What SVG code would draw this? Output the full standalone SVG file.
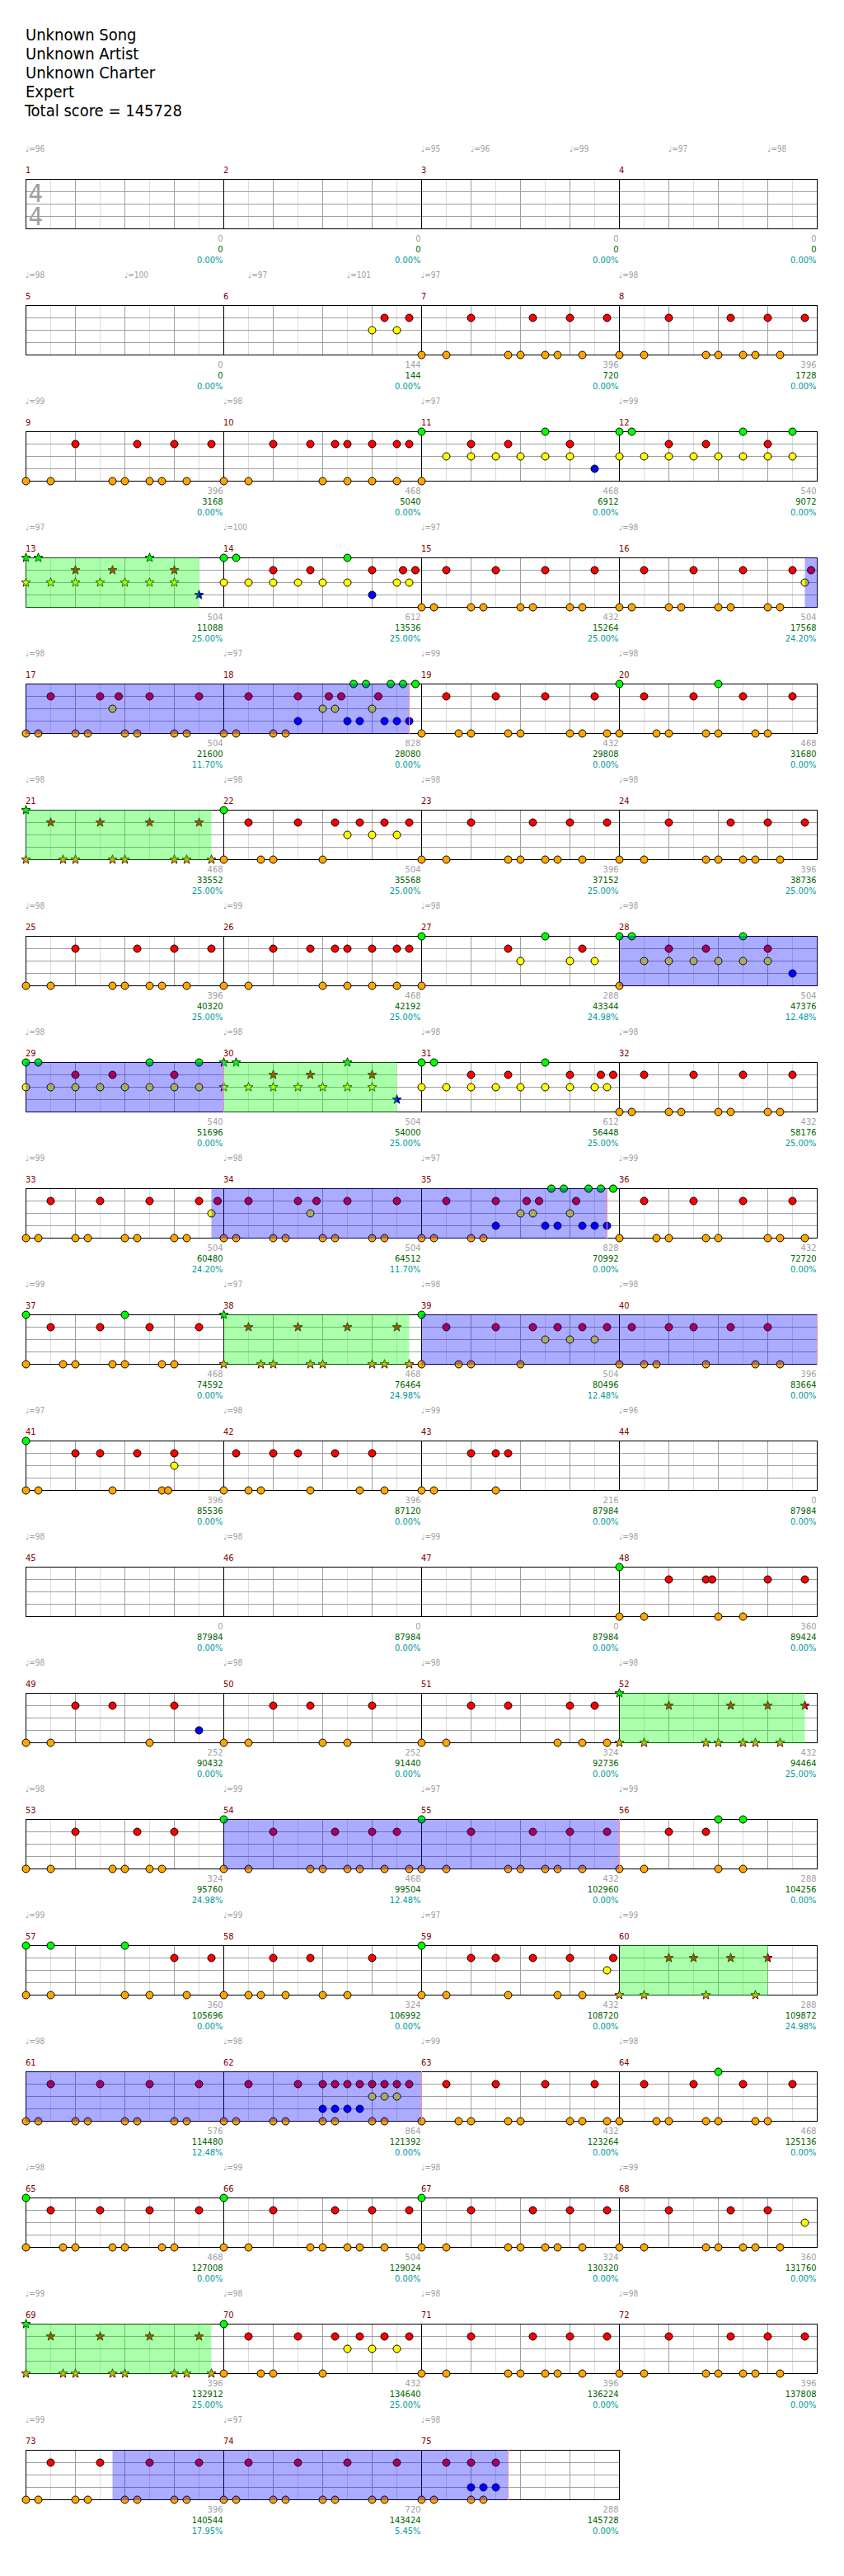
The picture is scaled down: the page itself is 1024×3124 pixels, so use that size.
<svg xmlns="http://www.w3.org/2000/svg" width="1024" height="3124" viewBox="0 0 1024 3124">
<style>
text{font-family:"DejaVu Sans Condensed","DejaVu Sans",sans-serif}
.t{font-size:20px;fill:#000}
.ts{font-size:31px;fill:#a0a0a0}
.mn{font-size:11px;fill:#800000}
.tp{font-size:10px;fill:#a0a0a0}
.s1{font-size:11px;fill:#a0a0a0;text-anchor:end}
.s2{font-size:11px;fill:#006400;text-anchor:end}
.s3{font-size:11px;fill:#009999;text-anchor:end}
.bo{fill:#0000ff;fill-opacity:.33}
.go{fill:#00ff00;fill-opacity:.33}
.be{stroke:#ff9090;stroke-width:1;fill:none}
</style>
<defs>
<g id="bar" fill="none">
<path d="M30.5 0v61M90.5 0v61M150.5 0v61M210.5 0v61" stroke="#dcdcdc"/>
<path d="M60.5 0v61M120.5 0v61M180.5 0v61M0 15.5h240M0 30.5h240M0 45.5h240" stroke="#a0a0a0"/>
<path d="M0.5 0v61M0 0.5h241M0 60.5h241M240.5 0v61" stroke="#000"/>
</g>
<circle id="G" r="4.5" fill="#00ff00" stroke="#000"/>
<circle id="R" cy="15" r="4.5" fill="#ff0000" stroke="#000"/>
<circle id="Y" cy="30" r="4.5" fill="#ffff00" stroke="#000"/>
<circle id="B" cy="45" r="4.5" fill="#0000ff" stroke="#000"/>
<circle id="O" cy="60" r="4.5" fill="#ffa500" stroke="#000"/>
<path id="st" d="M0,-5.8L1.41,-1.94L5.52,-1.79L2.28,0.74L3.41,4.69L0,2.4L-3.41,4.69L-2.28,0.74L-5.52,-1.79L-1.41,-1.94Z" stroke="#000" stroke-width="0.8"/>
<use id="SG" href="#st" fill="#00ff00"/>
<use id="SR" href="#st" y="15" fill="#ff0000"/>
<use id="SY" href="#st" y="30" fill="#ffff00"/>
<use id="SB" href="#st" y="45" fill="#0000ff"/>
<use id="SO" href="#st" y="60" fill="#ffa500"/>
</defs>
<rect width="1024" height="3124" fill="#fff"/>
<g id="header">
<text class="t" x="31" y="49">Unknown Song</text>
<text class="t" x="31" y="72">Unknown Artist</text>
<text class="t" x="31" y="95">Unknown Charter</text>
<text class="t" x="31" y="118">Expert</text>
<text class="t" x="30" y="141">Total score = 145728</text>
</g>

<g id="row1" transform="translate(0,217)">
<use href="#bar" x="31"/><use href="#bar" x="271"/><use href="#bar" x="511"/><use href="#bar" x="751"/>
<text class="ts" x="34.5" y="28">4</text><text class="ts" x="34.5" y="56">4</text>
<text class="mn" x="31" y="-7">1</text><text class="mn" x="271" y="-7">2</text><text class="mn" x="511" y="-7">3</text><text class="mn" x="751" y="-7">4</text>
<text class="tp" x="31" y="-33">♩=96</text><text class="tp" x="511" y="-33">♩=95</text><text class="tp" x="571" y="-33">♩=96</text><text class="tp" x="691" y="-33">♩=99</text><text class="tp" x="811" y="-33">♩=97</text><text class="tp" x="931" y="-33">♩=98</text>
<text class="s1" x="270.5" y="76">0</text><text class="s2" x="270.5" y="89">0</text><text class="s3" x="270.5" y="102">0.00%</text>
<text class="s1" x="510.5" y="76">0</text><text class="s2" x="510.5" y="89">0</text><text class="s3" x="510.5" y="102">0.00%</text>
<text class="s1" x="750.5" y="76">0</text><text class="s2" x="750.5" y="89">0</text><text class="s3" x="750.5" y="102">0.00%</text>
<text class="s1" x="990.5" y="76">0</text><text class="s2" x="990.5" y="89">0</text><text class="s3" x="990.5" y="102">0.00%</text>
</g>

<g id="row2" transform="translate(0,370)">
<use href="#bar" x="31"/><use href="#bar" x="271"/><use href="#bar" x="511"/><use href="#bar" x="751"/>
<g transform="translate(271.5,.5)"><use href="#Y" x="180"/><use href="#Y" x="210"/><use href="#R" x="195"/><use href="#R" x="225"/></g>
<g transform="translate(511.5,.5)"><use href="#R" x="60"/><use href="#R" x="135"/><use href="#R" x="180"/><use href="#R" x="225"/><use href="#O" x="0"/><use href="#O" x="30"/><use href="#O" x="105"/><use href="#O" x="120"/><use href="#O" x="150"/><use href="#O" x="165"/><use href="#O" x="195"/></g>
<g transform="translate(751.5,.5)"><use href="#R" x="60"/><use href="#R" x="135"/><use href="#R" x="180"/><use href="#R" x="225"/><use href="#O" x="0"/><use href="#O" x="30"/><use href="#O" x="105"/><use href="#O" x="120"/><use href="#O" x="150"/><use href="#O" x="165"/><use href="#O" x="195"/></g>
<text class="mn" x="31" y="-7">5</text><text class="mn" x="271" y="-7">6</text><text class="mn" x="511" y="-7">7</text><text class="mn" x="751" y="-7">8</text>
<text class="tp" x="31" y="-33">♩=98</text><text class="tp" x="151" y="-33">♩=100</text><text class="tp" x="301" y="-33">♩=97</text><text class="tp" x="421" y="-33">♩=101</text><text class="tp" x="511" y="-33">♩=97</text><text class="tp" x="751" y="-33">♩=98</text>
<text class="s1" x="270.5" y="76">0</text><text class="s2" x="270.5" y="89">0</text><text class="s3" x="270.5" y="102">0.00%</text>
<text class="s1" x="510.5" y="76">144</text><text class="s2" x="510.5" y="89">144</text><text class="s3" x="510.5" y="102">0.00%</text>
<text class="s1" x="750.5" y="76">396</text><text class="s2" x="750.5" y="89">720</text><text class="s3" x="750.5" y="102">0.00%</text>
<text class="s1" x="990.5" y="76">396</text><text class="s2" x="990.5" y="89">1728</text><text class="s3" x="990.5" y="102">0.00%</text>
</g>

<g id="row3" transform="translate(0,523)">
<use href="#bar" x="31"/><use href="#bar" x="271"/><use href="#bar" x="511"/><use href="#bar" x="751"/>
<g transform="translate(31.5,.5)"><use href="#R" x="60"/><use href="#R" x="135"/><use href="#R" x="180"/><use href="#R" x="225"/><use href="#O" x="0"/><use href="#O" x="30"/><use href="#O" x="105"/><use href="#O" x="120"/><use href="#O" x="150"/><use href="#O" x="165"/><use href="#O" x="195"/></g>
<g transform="translate(271.5,.5)"><use href="#R" x="60"/><use href="#R" x="105"/><use href="#R" x="135"/><use href="#R" x="150"/><use href="#R" x="180"/><use href="#R" x="210"/><use href="#R" x="225"/><use href="#O" x="0"/><use href="#O" x="30"/><use href="#O" x="120"/><use href="#O" x="150"/><use href="#O" x="180"/><use href="#O" x="210"/></g>
<g transform="translate(511.5,.5)"><use href="#G" x="0"/><use href="#G" x="150"/><use href="#R" x="60"/><use href="#R" x="105"/><use href="#R" x="180"/><use href="#Y" x="30"/><use href="#Y" x="60"/><use href="#Y" x="90"/><use href="#Y" x="120"/><use href="#Y" x="150"/><use href="#Y" x="180"/><use href="#B" x="210"/><use href="#O" x="0"/></g>
<g transform="translate(751.5,.5)"><use href="#G" x="0"/><use href="#G" x="15"/><use href="#G" x="150"/><use href="#G" x="210"/><use href="#R" x="60"/><use href="#R" x="105"/><use href="#R" x="180"/><use href="#Y" x="0"/><use href="#Y" x="30"/><use href="#Y" x="60"/><use href="#Y" x="90"/><use href="#Y" x="120"/><use href="#Y" x="150"/><use href="#Y" x="180"/><use href="#Y" x="210"/></g>
<text class="mn" x="31" y="-7">9</text><text class="mn" x="271" y="-7">10</text><text class="mn" x="511" y="-7">11</text><text class="mn" x="751" y="-7">12</text>
<text class="tp" x="31" y="-33">♩=99</text><text class="tp" x="271" y="-33">♩=98</text><text class="tp" x="511" y="-33">♩=97</text><text class="tp" x="751" y="-33">♩=99</text>
<text class="s1" x="270.5" y="76">396</text><text class="s2" x="270.5" y="89">3168</text><text class="s3" x="270.5" y="102">0.00%</text>
<text class="s1" x="510.5" y="76">468</text><text class="s2" x="510.5" y="89">5040</text><text class="s3" x="510.5" y="102">0.00%</text>
<text class="s1" x="750.5" y="76">468</text><text class="s2" x="750.5" y="89">6912</text><text class="s3" x="750.5" y="102">0.00%</text>
<text class="s1" x="990.5" y="76">540</text><text class="s2" x="990.5" y="89">9072</text><text class="s3" x="990.5" y="102">0.00%</text>
</g>

<g id="row4" transform="translate(0,676)">
<use href="#bar" x="31"/><use href="#bar" x="271"/><use href="#bar" x="511"/><use href="#bar" x="751"/>
<g transform="translate(31.5,.5)"><use href="#SG" x="0"/><use href="#SG" x="15"/><use href="#SG" x="150"/><use href="#SR" x="60"/><use href="#SR" x="105"/><use href="#SR" x="180"/><use href="#SY" x="0"/><use href="#SY" x="30"/><use href="#SY" x="60"/><use href="#SY" x="90"/><use href="#SY" x="120"/><use href="#SY" x="150"/><use href="#SY" x="180"/><use href="#SB" x="210"/></g>
<g transform="translate(271.5,.5)"><use href="#G" x="0"/><use href="#G" x="15"/><use href="#G" x="150"/><use href="#R" x="60"/><use href="#R" x="105"/><use href="#R" x="180"/><use href="#R" x="217.5"/><use href="#R" x="232.5"/><use href="#Y" x="0"/><use href="#Y" x="30"/><use href="#Y" x="60"/><use href="#Y" x="90"/><use href="#Y" x="120"/><use href="#Y" x="150"/><use href="#Y" x="210"/><use href="#Y" x="225"/><use href="#B" x="180"/></g>
<g transform="translate(511.5,.5)"><use href="#R" x="30"/><use href="#R" x="90"/><use href="#R" x="150"/><use href="#R" x="210"/><use href="#O" x="0"/><use href="#O" x="15"/><use href="#O" x="60"/><use href="#O" x="75"/><use href="#O" x="120"/><use href="#O" x="135"/><use href="#O" x="180"/><use href="#O" x="195"/></g>
<g transform="translate(751.5,.5)"><use href="#R" x="30"/><use href="#R" x="90"/><use href="#R" x="150"/><use href="#R" x="210"/><use href="#R" x="232.5"/><use href="#Y" x="225"/><use href="#O" x="0"/><use href="#O" x="15"/><use href="#O" x="60"/><use href="#O" x="75"/><use href="#O" x="120"/><use href="#O" x="135"/><use href="#O" x="180"/><use href="#O" x="195"/></g>
<rect class="go" x="31" y="0" width="210.5" height="61"/>
<rect class="bo" x="976.5" y="0" width="15.5" height="61"/>
<text class="mn" x="31" y="-7">13</text><text class="mn" x="271" y="-7">14</text><text class="mn" x="511" y="-7">15</text><text class="mn" x="751" y="-7">16</text>
<text class="tp" x="31" y="-33">♩=97</text><text class="tp" x="271" y="-33">♩=100</text><text class="tp" x="511" y="-33">♩=97</text><text class="tp" x="751" y="-33">♩=98</text>
<text class="s1" x="270.5" y="76">504</text><text class="s2" x="270.5" y="89">11088</text><text class="s3" x="270.5" y="102">25.00%</text>
<text class="s1" x="510.5" y="76">612</text><text class="s2" x="510.5" y="89">13536</text><text class="s3" x="510.5" y="102">25.00%</text>
<text class="s1" x="750.5" y="76">432</text><text class="s2" x="750.5" y="89">15264</text><text class="s3" x="750.5" y="102">25.00%</text>
<text class="s1" x="990.5" y="76">504</text><text class="s2" x="990.5" y="89">17568</text><text class="s3" x="990.5" y="102">24.20%</text>
</g>

<g id="row5" transform="translate(0,829)">
<use href="#bar" x="31"/><use href="#bar" x="271"/><use href="#bar" x="511"/><use href="#bar" x="751"/>
<g transform="translate(31.5,.5)"><use href="#R" x="30"/><use href="#R" x="90"/><use href="#R" x="112.5"/><use href="#R" x="150"/><use href="#R" x="210"/><use href="#Y" x="105"/><use href="#O" x="0"/><use href="#O" x="15"/><use href="#O" x="60"/><use href="#O" x="75"/><use href="#O" x="120"/><use href="#O" x="135"/><use href="#O" x="180"/><use href="#O" x="195"/></g>
<g transform="translate(271.5,.5)"><use href="#G" x="157.5"/><use href="#G" x="172.5"/><use href="#G" x="202.5"/><use href="#G" x="217.5"/><use href="#G" x="232.5"/><use href="#R" x="30"/><use href="#R" x="90"/><use href="#R" x="127.5"/><use href="#R" x="142.5"/><use href="#R" x="187.5"/><use href="#Y" x="120"/><use href="#Y" x="135"/><use href="#Y" x="180"/><use href="#B" x="90"/><use href="#B" x="150"/><use href="#B" x="165"/><use href="#B" x="195"/><use href="#B" x="210"/><use href="#B" x="225"/><use href="#O" x="0"/><use href="#O" x="15"/><use href="#O" x="60"/><use href="#O" x="75"/></g>
<g transform="translate(511.5,.5)"><use href="#R" x="30"/><use href="#R" x="90"/><use href="#R" x="150"/><use href="#R" x="210"/><use href="#O" x="0"/><use href="#O" x="45"/><use href="#O" x="60"/><use href="#O" x="105"/><use href="#O" x="120"/><use href="#O" x="180"/><use href="#O" x="195"/><use href="#O" x="225"/></g>
<g transform="translate(751.5,.5)"><use href="#G" x="0"/><use href="#G" x="120"/><use href="#R" x="30"/><use href="#R" x="90"/><use href="#R" x="150"/><use href="#R" x="210"/><use href="#O" x="0"/><use href="#O" x="45"/><use href="#O" x="60"/><use href="#O" x="105"/><use href="#O" x="120"/><use href="#O" x="165"/><use href="#O" x="180"/></g>
<rect class="bo" x="31" y="0" width="465.5" height="61"/><path class="be" d="M496.5 0v61"/>
<text class="mn" x="31" y="-7">17</text><text class="mn" x="271" y="-7">18</text><text class="mn" x="511" y="-7">19</text><text class="mn" x="751" y="-7">20</text>
<text class="tp" x="31" y="-33">♩=98</text><text class="tp" x="271" y="-33">♩=97</text><text class="tp" x="511" y="-33">♩=99</text><text class="tp" x="751" y="-33">♩=98</text>
<text class="s1" x="270.5" y="76">504</text><text class="s2" x="270.5" y="89">21600</text><text class="s3" x="270.5" y="102">11.70%</text>
<text class="s1" x="510.5" y="76">828</text><text class="s2" x="510.5" y="89">28080</text><text class="s3" x="510.5" y="102">0.00%</text>
<text class="s1" x="750.5" y="76">432</text><text class="s2" x="750.5" y="89">29808</text><text class="s3" x="750.5" y="102">0.00%</text>
<text class="s1" x="990.5" y="76">468</text><text class="s2" x="990.5" y="89">31680</text><text class="s3" x="990.5" y="102">0.00%</text>
</g>

<g id="row6" transform="translate(0,982)">
<use href="#bar" x="31"/><use href="#bar" x="271"/><use href="#bar" x="511"/><use href="#bar" x="751"/>
<g transform="translate(31.5,.5)"><use href="#SG" x="0"/><use href="#SR" x="30"/><use href="#SR" x="90"/><use href="#SR" x="150"/><use href="#SR" x="210"/><use href="#SO" x="0"/><use href="#SO" x="45"/><use href="#SO" x="60"/><use href="#SO" x="105"/><use href="#SO" x="120"/><use href="#SO" x="180"/><use href="#SO" x="195"/><use href="#SO" x="225"/></g>
<g transform="translate(271.5,.5)"><use href="#G" x="0"/><use href="#R" x="30"/><use href="#R" x="90"/><use href="#R" x="135"/><use href="#R" x="165"/><use href="#R" x="195"/><use href="#R" x="225"/><use href="#Y" x="150"/><use href="#Y" x="180"/><use href="#Y" x="210"/><use href="#O" x="0"/><use href="#O" x="45"/><use href="#O" x="60"/><use href="#O" x="120"/></g>
<g transform="translate(511.5,.5)"><use href="#R" x="60"/><use href="#R" x="135"/><use href="#R" x="180"/><use href="#R" x="225"/><use href="#O" x="0"/><use href="#O" x="30"/><use href="#O" x="105"/><use href="#O" x="120"/><use href="#O" x="150"/><use href="#O" x="165"/><use href="#O" x="195"/></g>
<g transform="translate(751.5,.5)"><use href="#R" x="60"/><use href="#R" x="135"/><use href="#R" x="180"/><use href="#R" x="225"/><use href="#O" x="0"/><use href="#O" x="30"/><use href="#O" x="105"/><use href="#O" x="120"/><use href="#O" x="150"/><use href="#O" x="165"/><use href="#O" x="195"/></g>
<rect class="go" x="31" y="0" width="225.5" height="61"/>
<text class="mn" x="31" y="-7">21</text><text class="mn" x="271" y="-7">22</text><text class="mn" x="511" y="-7">23</text><text class="mn" x="751" y="-7">24</text>
<text class="tp" x="31" y="-33">♩=98</text><text class="tp" x="271" y="-33">♩=98</text><text class="tp" x="511" y="-33">♩=98</text><text class="tp" x="751" y="-33">♩=98</text>
<text class="s1" x="270.5" y="76">468</text><text class="s2" x="270.5" y="89">33552</text><text class="s3" x="270.5" y="102">25.00%</text>
<text class="s1" x="510.5" y="76">504</text><text class="s2" x="510.5" y="89">35568</text><text class="s3" x="510.5" y="102">25.00%</text>
<text class="s1" x="750.5" y="76">396</text><text class="s2" x="750.5" y="89">37152</text><text class="s3" x="750.5" y="102">25.00%</text>
<text class="s1" x="990.5" y="76">396</text><text class="s2" x="990.5" y="89">38736</text><text class="s3" x="990.5" y="102">25.00%</text>
</g>

<g id="row7" transform="translate(0,1135)">
<use href="#bar" x="31"/><use href="#bar" x="271"/><use href="#bar" x="511"/><use href="#bar" x="751"/>
<g transform="translate(31.5,.5)"><use href="#R" x="60"/><use href="#R" x="135"/><use href="#R" x="180"/><use href="#R" x="225"/><use href="#O" x="0"/><use href="#O" x="30"/><use href="#O" x="105"/><use href="#O" x="120"/><use href="#O" x="150"/><use href="#O" x="165"/><use href="#O" x="195"/></g>
<g transform="translate(271.5,.5)"><use href="#R" x="60"/><use href="#R" x="105"/><use href="#R" x="135"/><use href="#R" x="150"/><use href="#R" x="180"/><use href="#R" x="210"/><use href="#R" x="225"/><use href="#O" x="0"/><use href="#O" x="30"/><use href="#O" x="120"/><use href="#O" x="150"/><use href="#O" x="180"/><use href="#O" x="210"/></g>
<g transform="translate(511.5,.5)"><use href="#G" x="0"/><use href="#G" x="150"/><use href="#R" x="105"/><use href="#R" x="195"/><use href="#Y" x="120"/><use href="#Y" x="180"/><use href="#Y" x="210"/><use href="#O" x="0"/></g>
<g transform="translate(751.5,.5)"><use href="#G" x="0"/><use href="#G" x="15"/><use href="#G" x="150"/><use href="#R" x="60"/><use href="#R" x="105"/><use href="#R" x="180"/><use href="#Y" x="30"/><use href="#Y" x="60"/><use href="#Y" x="90"/><use href="#Y" x="120"/><use href="#Y" x="150"/><use href="#Y" x="180"/><use href="#B" x="210"/><use href="#O" x="0"/></g>
<rect class="bo" x="751.5" y="0" width="240.5" height="61"/>
<text class="mn" x="31" y="-7">25</text><text class="mn" x="271" y="-7">26</text><text class="mn" x="511" y="-7">27</text><text class="mn" x="751" y="-7">28</text>
<text class="tp" x="31" y="-33">♩=98</text><text class="tp" x="271" y="-33">♩=99</text><text class="tp" x="511" y="-33">♩=98</text><text class="tp" x="751" y="-33">♩=98</text>
<text class="s1" x="270.5" y="76">396</text><text class="s2" x="270.5" y="89">40320</text><text class="s3" x="270.5" y="102">25.00%</text>
<text class="s1" x="510.5" y="76">468</text><text class="s2" x="510.5" y="89">42192</text><text class="s3" x="510.5" y="102">25.00%</text>
<text class="s1" x="750.5" y="76">288</text><text class="s2" x="750.5" y="89">43344</text><text class="s3" x="750.5" y="102">24.98%</text>
<text class="s1" x="990.5" y="76">504</text><text class="s2" x="990.5" y="89">47376</text><text class="s3" x="990.5" y="102">12.48%</text>
</g>

<g id="row8" transform="translate(0,1288)">
<use href="#bar" x="31"/><use href="#bar" x="271"/><use href="#bar" x="511"/><use href="#bar" x="751"/>
<g transform="translate(31.5,.5)"><use href="#G" x="0"/><use href="#G" x="15"/><use href="#G" x="150"/><use href="#G" x="210"/><use href="#R" x="60"/><use href="#R" x="105"/><use href="#R" x="180"/><use href="#Y" x="0"/><use href="#Y" x="30"/><use href="#Y" x="60"/><use href="#Y" x="90"/><use href="#Y" x="120"/><use href="#Y" x="150"/><use href="#Y" x="180"/><use href="#Y" x="210"/></g>
<g transform="translate(271.5,.5)"><use href="#SG" x="0"/><use href="#SG" x="15"/><use href="#SG" x="150"/><use href="#SR" x="60"/><use href="#SR" x="105"/><use href="#SR" x="180"/><use href="#SY" x="0"/><use href="#SY" x="30"/><use href="#SY" x="60"/><use href="#SY" x="90"/><use href="#SY" x="120"/><use href="#SY" x="150"/><use href="#SY" x="180"/><use href="#SB" x="210"/></g>
<g transform="translate(511.5,.5)"><use href="#G" x="0"/><use href="#G" x="15"/><use href="#G" x="150"/><use href="#R" x="60"/><use href="#R" x="105"/><use href="#R" x="180"/><use href="#R" x="217.5"/><use href="#R" x="232.5"/><use href="#Y" x="0"/><use href="#Y" x="30"/><use href="#Y" x="60"/><use href="#Y" x="90"/><use href="#Y" x="120"/><use href="#Y" x="150"/><use href="#Y" x="180"/><use href="#Y" x="210"/><use href="#Y" x="225"/></g>
<g transform="translate(751.5,.5)"><use href="#R" x="30"/><use href="#R" x="90"/><use href="#R" x="150"/><use href="#R" x="210"/><use href="#O" x="0"/><use href="#O" x="15"/><use href="#O" x="60"/><use href="#O" x="75"/><use href="#O" x="120"/><use href="#O" x="135"/><use href="#O" x="180"/><use href="#O" x="195"/></g>
<rect class="bo" x="31" y="0" width="240.5" height="61"/>
<rect class="go" x="271.5" y="0" width="210" height="61"/><path class="be" d="M271.5 0v61"/>
<text class="mn" x="31" y="-7">29</text><text class="mn" x="271" y="-7">30</text><text class="mn" x="511" y="-7">31</text><text class="mn" x="751" y="-7">32</text>
<text class="tp" x="31" y="-33">♩=98</text><text class="tp" x="271" y="-33">♩=98</text><text class="tp" x="511" y="-33">♩=98</text><text class="tp" x="751" y="-33">♩=98</text>
<text class="s1" x="270.5" y="76">540</text><text class="s2" x="270.5" y="89">51696</text><text class="s3" x="270.5" y="102">0.00%</text>
<text class="s1" x="510.5" y="76">504</text><text class="s2" x="510.5" y="89">54000</text><text class="s3" x="510.5" y="102">25.00%</text>
<text class="s1" x="750.5" y="76">612</text><text class="s2" x="750.5" y="89">56448</text><text class="s3" x="750.5" y="102">25.00%</text>
<text class="s1" x="990.5" y="76">432</text><text class="s2" x="990.5" y="89">58176</text><text class="s3" x="990.5" y="102">25.00%</text>
</g>

<g id="row9" transform="translate(0,1441)">
<use href="#bar" x="31"/><use href="#bar" x="271"/><use href="#bar" x="511"/><use href="#bar" x="751"/>
<g transform="translate(31.5,.5)"><use href="#R" x="30"/><use href="#R" x="90"/><use href="#R" x="150"/><use href="#R" x="210"/><use href="#R" x="232.5"/><use href="#Y" x="225"/><use href="#O" x="0"/><use href="#O" x="15"/><use href="#O" x="60"/><use href="#O" x="75"/><use href="#O" x="120"/><use href="#O" x="135"/><use href="#O" x="180"/><use href="#O" x="195"/></g>
<g transform="translate(271.5,.5)"><use href="#R" x="30"/><use href="#R" x="90"/><use href="#R" x="112.5"/><use href="#R" x="150"/><use href="#R" x="210"/><use href="#Y" x="105"/><use href="#O" x="0"/><use href="#O" x="15"/><use href="#O" x="60"/><use href="#O" x="75"/><use href="#O" x="120"/><use href="#O" x="135"/><use href="#O" x="180"/><use href="#O" x="195"/></g>
<g transform="translate(511.5,.5)"><use href="#G" x="157.5"/><use href="#G" x="172.5"/><use href="#G" x="202.5"/><use href="#G" x="217.5"/><use href="#G" x="232.5"/><use href="#R" x="30"/><use href="#R" x="90"/><use href="#R" x="127.5"/><use href="#R" x="142.5"/><use href="#R" x="187.5"/><use href="#Y" x="120"/><use href="#Y" x="135"/><use href="#Y" x="180"/><use href="#B" x="90"/><use href="#B" x="150"/><use href="#B" x="165"/><use href="#B" x="195"/><use href="#B" x="210"/><use href="#B" x="225"/><use href="#O" x="0"/><use href="#O" x="15"/><use href="#O" x="60"/><use href="#O" x="75"/></g>
<g transform="translate(751.5,.5)"><use href="#R" x="30"/><use href="#R" x="90"/><use href="#R" x="150"/><use href="#R" x="210"/><use href="#O" x="0"/><use href="#O" x="45"/><use href="#O" x="60"/><use href="#O" x="105"/><use href="#O" x="120"/><use href="#O" x="180"/><use href="#O" x="195"/><use href="#O" x="225"/></g>
<rect class="bo" x="256.5" y="0" width="480" height="61"/><path class="be" d="M736.5 0v61"/>
<text class="mn" x="31" y="-7">33</text><text class="mn" x="271" y="-7">34</text><text class="mn" x="511" y="-7">35</text><text class="mn" x="751" y="-7">36</text>
<text class="tp" x="31" y="-33">♩=99</text><text class="tp" x="271" y="-33">♩=98</text><text class="tp" x="511" y="-33">♩=97</text><text class="tp" x="751" y="-33">♩=99</text>
<text class="s1" x="270.5" y="76">504</text><text class="s2" x="270.5" y="89">60480</text><text class="s3" x="270.5" y="102">24.20%</text>
<text class="s1" x="510.5" y="76">504</text><text class="s2" x="510.5" y="89">64512</text><text class="s3" x="510.5" y="102">11.70%</text>
<text class="s1" x="750.5" y="76">828</text><text class="s2" x="750.5" y="89">70992</text><text class="s3" x="750.5" y="102">0.00%</text>
<text class="s1" x="990.5" y="76">432</text><text class="s2" x="990.5" y="89">72720</text><text class="s3" x="990.5" y="102">0.00%</text>
</g>

<g id="row10" transform="translate(0,1594)">
<use href="#bar" x="31"/><use href="#bar" x="271"/><use href="#bar" x="511"/><use href="#bar" x="751"/>
<g transform="translate(31.5,.5)"><use href="#G" x="0"/><use href="#G" x="120"/><use href="#R" x="30"/><use href="#R" x="90"/><use href="#R" x="150"/><use href="#R" x="210"/><use href="#O" x="0"/><use href="#O" x="45"/><use href="#O" x="60"/><use href="#O" x="105"/><use href="#O" x="120"/><use href="#O" x="165"/><use href="#O" x="180"/></g>
<g transform="translate(271.5,.5)"><use href="#SG" x="0"/><use href="#SR" x="30"/><use href="#SR" x="90"/><use href="#SR" x="150"/><use href="#SR" x="210"/><use href="#SO" x="0"/><use href="#SO" x="45"/><use href="#SO" x="60"/><use href="#SO" x="105"/><use href="#SO" x="120"/><use href="#SO" x="180"/><use href="#SO" x="195"/><use href="#SO" x="225"/></g>
<g transform="translate(511.5,.5)"><use href="#G" x="0"/><use href="#R" x="30"/><use href="#R" x="90"/><use href="#R" x="135"/><use href="#R" x="165"/><use href="#R" x="195"/><use href="#R" x="225"/><use href="#Y" x="150"/><use href="#Y" x="180"/><use href="#Y" x="210"/><use href="#O" x="0"/><use href="#O" x="45"/><use href="#O" x="60"/><use href="#O" x="120"/></g>
<g transform="translate(751.5,.5)"><use href="#R" x="15"/><use href="#R" x="60"/><use href="#R" x="90"/><use href="#R" x="135"/><use href="#R" x="180"/><use href="#O" x="0"/><use href="#O" x="30"/><use href="#O" x="45"/><use href="#O" x="105"/><use href="#O" x="165"/><use href="#O" x="195"/></g>
<rect class="go" x="271.5" y="0" width="225" height="61"/>
<rect class="bo" x="511.5" y="0" width="480.5" height="61"/><path class="be" d="M991.5 0v61"/>
<text class="mn" x="31" y="-7">37</text><text class="mn" x="271" y="-7">38</text><text class="mn" x="511" y="-7">39</text><text class="mn" x="751" y="-7">40</text>
<text class="tp" x="31" y="-33">♩=99</text><text class="tp" x="271" y="-33">♩=97</text><text class="tp" x="511" y="-33">♩=98</text><text class="tp" x="751" y="-33">♩=98</text>
<text class="s1" x="270.5" y="76">468</text><text class="s2" x="270.5" y="89">74592</text><text class="s3" x="270.5" y="102">0.00%</text>
<text class="s1" x="510.5" y="76">468</text><text class="s2" x="510.5" y="89">76464</text><text class="s3" x="510.5" y="102">24.98%</text>
<text class="s1" x="750.5" y="76">504</text><text class="s2" x="750.5" y="89">80496</text><text class="s3" x="750.5" y="102">12.48%</text>
<text class="s1" x="990.5" y="76">396</text><text class="s2" x="990.5" y="89">83664</text><text class="s3" x="990.5" y="102">0.00%</text>
</g>

<g id="row11" transform="translate(0,1747)">
<use href="#bar" x="31"/><use href="#bar" x="271"/><use href="#bar" x="511"/><use href="#bar" x="751"/>
<g transform="translate(31.5,.5)"><use href="#G" x="0"/><use href="#R" x="60"/><use href="#R" x="90"/><use href="#R" x="135"/><use href="#R" x="180"/><use href="#Y" x="180"/><use href="#O" x="0"/><use href="#O" x="15"/><use href="#O" x="105"/><use href="#O" x="165"/><use href="#O" x="172.5"/></g>
<g transform="translate(271.5,.5)"><use href="#R" x="15"/><use href="#R" x="60"/><use href="#R" x="90"/><use href="#R" x="135"/><use href="#R" x="180"/><use href="#O" x="0"/><use href="#O" x="30"/><use href="#O" x="45"/><use href="#O" x="105"/><use href="#O" x="165"/><use href="#O" x="195"/></g>
<g transform="translate(511.5,.5)"><use href="#R" x="60"/><use href="#R" x="90"/><use href="#R" x="105"/><use href="#O" x="0"/><use href="#O" x="15"/><use href="#O" x="90"/></g>
<text class="mn" x="31" y="-7">41</text><text class="mn" x="271" y="-7">42</text><text class="mn" x="511" y="-7">43</text><text class="mn" x="751" y="-7">44</text>
<text class="tp" x="31" y="-33">♩=97</text><text class="tp" x="271" y="-33">♩=98</text><text class="tp" x="511" y="-33">♩=99</text><text class="tp" x="751" y="-33">♩=96</text>
<text class="s1" x="270.5" y="76">396</text><text class="s2" x="270.5" y="89">85536</text><text class="s3" x="270.5" y="102">0.00%</text>
<text class="s1" x="510.5" y="76">396</text><text class="s2" x="510.5" y="89">87120</text><text class="s3" x="510.5" y="102">0.00%</text>
<text class="s1" x="750.5" y="76">216</text><text class="s2" x="750.5" y="89">87984</text><text class="s3" x="750.5" y="102">0.00%</text>
<text class="s1" x="990.5" y="76">0</text><text class="s2" x="990.5" y="89">87984</text><text class="s3" x="990.5" y="102">0.00%</text>
</g>

<g id="row12" transform="translate(0,1900)">
<use href="#bar" x="31"/><use href="#bar" x="271"/><use href="#bar" x="511"/><use href="#bar" x="751"/>
<g transform="translate(751.5,.5)"><use href="#G" x="0"/><use href="#R" x="60"/><use href="#R" x="105"/><use href="#R" x="112.5"/><use href="#R" x="180"/><use href="#R" x="225"/><use href="#O" x="0"/><use href="#O" x="30"/><use href="#O" x="120"/><use href="#O" x="150"/></g>
<text class="mn" x="31" y="-7">45</text><text class="mn" x="271" y="-7">46</text><text class="mn" x="511" y="-7">47</text><text class="mn" x="751" y="-7">48</text>
<text class="tp" x="31" y="-33">♩=98</text><text class="tp" x="271" y="-33">♩=98</text><text class="tp" x="511" y="-33">♩=99</text><text class="tp" x="751" y="-33">♩=98</text>
<text class="s1" x="270.5" y="76">0</text><text class="s2" x="270.5" y="89">87984</text><text class="s3" x="270.5" y="102">0.00%</text>
<text class="s1" x="510.5" y="76">0</text><text class="s2" x="510.5" y="89">87984</text><text class="s3" x="510.5" y="102">0.00%</text>
<text class="s1" x="750.5" y="76">0</text><text class="s2" x="750.5" y="89">87984</text><text class="s3" x="750.5" y="102">0.00%</text>
<text class="s1" x="990.5" y="76">360</text><text class="s2" x="990.5" y="89">89424</text><text class="s3" x="990.5" y="102">0.00%</text>
</g>

<g id="row13" transform="translate(0,2053)">
<use href="#bar" x="31"/><use href="#bar" x="271"/><use href="#bar" x="511"/><use href="#bar" x="751"/>
<g transform="translate(31.5,.5)"><use href="#R" x="60"/><use href="#R" x="105"/><use href="#R" x="180"/><use href="#B" x="210"/><use href="#O" x="0"/><use href="#O" x="30"/><use href="#O" x="150"/></g>
<g transform="translate(271.5,.5)"><use href="#R" x="60"/><use href="#R" x="105"/><use href="#R" x="180"/><use href="#O" x="0"/><use href="#O" x="30"/><use href="#O" x="120"/><use href="#O" x="150"/></g>
<g transform="translate(511.5,.5)"><use href="#R" x="60"/><use href="#R" x="105"/><use href="#R" x="180"/><use href="#R" x="210"/><use href="#O" x="0"/><use href="#O" x="30"/><use href="#O" x="165"/><use href="#O" x="195"/><use href="#O" x="225"/></g>
<g transform="translate(751.5,.5)"><use href="#SG" x="0"/><use href="#SR" x="60"/><use href="#SR" x="135"/><use href="#SR" x="180"/><use href="#SR" x="225"/><use href="#SO" x="0"/><use href="#SO" x="30"/><use href="#SO" x="105"/><use href="#SO" x="120"/><use href="#SO" x="150"/><use href="#SO" x="165"/><use href="#SO" x="195"/></g>
<rect class="go" x="751.5" y="0" width="225" height="61"/>
<text class="mn" x="31" y="-7">49</text><text class="mn" x="271" y="-7">50</text><text class="mn" x="511" y="-7">51</text><text class="mn" x="751" y="-7">52</text>
<text class="tp" x="31" y="-33">♩=98</text><text class="tp" x="271" y="-33">♩=98</text><text class="tp" x="511" y="-33">♩=98</text><text class="tp" x="751" y="-33">♩=98</text>
<text class="s1" x="270.5" y="76">252</text><text class="s2" x="270.5" y="89">90432</text><text class="s3" x="270.5" y="102">0.00%</text>
<text class="s1" x="510.5" y="76">252</text><text class="s2" x="510.5" y="89">91440</text><text class="s3" x="510.5" y="102">0.00%</text>
<text class="s1" x="750.5" y="76">324</text><text class="s2" x="750.5" y="89">92736</text><text class="s3" x="750.5" y="102">0.00%</text>
<text class="s1" x="990.5" y="76">432</text><text class="s2" x="990.5" y="89">94464</text><text class="s3" x="990.5" y="102">25.00%</text>
</g>

<g id="row14" transform="translate(0,2206)">
<use href="#bar" x="31"/><use href="#bar" x="271"/><use href="#bar" x="511"/><use href="#bar" x="751"/>
<g transform="translate(31.5,.5)"><use href="#R" x="60"/><use href="#R" x="135"/><use href="#R" x="180"/><use href="#O" x="0"/><use href="#O" x="30"/><use href="#O" x="105"/><use href="#O" x="120"/><use href="#O" x="150"/><use href="#O" x="165"/></g>
<g transform="translate(271.5,.5)"><use href="#G" x="0"/><use href="#R" x="60"/><use href="#R" x="135"/><use href="#R" x="180"/><use href="#R" x="210"/><use href="#O" x="0"/><use href="#O" x="30"/><use href="#O" x="105"/><use href="#O" x="120"/><use href="#O" x="150"/><use href="#O" x="165"/><use href="#O" x="195"/><use href="#O" x="225"/></g>
<g transform="translate(511.5,.5)"><use href="#G" x="0"/><use href="#R" x="60"/><use href="#R" x="135"/><use href="#R" x="180"/><use href="#R" x="225"/><use href="#O" x="0"/><use href="#O" x="30"/><use href="#O" x="105"/><use href="#O" x="120"/><use href="#O" x="150"/><use href="#O" x="165"/><use href="#O" x="195"/></g>
<g transform="translate(751.5,.5)"><use href="#G" x="120"/><use href="#G" x="150"/><use href="#R" x="60"/><use href="#R" x="105"/><use href="#O" x="0"/><use href="#O" x="30"/><use href="#O" x="120"/><use href="#O" x="150"/></g>
<rect class="bo" x="271.5" y="0" width="480" height="61"/><path class="be" d="M751.5 0v61"/>
<text class="mn" x="31" y="-7">53</text><text class="mn" x="271" y="-7">54</text><text class="mn" x="511" y="-7">55</text><text class="mn" x="751" y="-7">56</text>
<text class="tp" x="31" y="-33">♩=98</text><text class="tp" x="271" y="-33">♩=99</text><text class="tp" x="511" y="-33">♩=97</text><text class="tp" x="751" y="-33">♩=99</text>
<text class="s1" x="270.5" y="76">324</text><text class="s2" x="270.5" y="89">95760</text><text class="s3" x="270.5" y="102">24.98%</text>
<text class="s1" x="510.5" y="76">468</text><text class="s2" x="510.5" y="89">99504</text><text class="s3" x="510.5" y="102">12.48%</text>
<text class="s1" x="750.5" y="76">432</text><text class="s2" x="750.5" y="89">102960</text><text class="s3" x="750.5" y="102">0.00%</text>
<text class="s1" x="990.5" y="76">288</text><text class="s2" x="990.5" y="89">104256</text><text class="s3" x="990.5" y="102">0.00%</text>
</g>

<g id="row15" transform="translate(0,2359)">
<use href="#bar" x="31"/><use href="#bar" x="271"/><use href="#bar" x="511"/><use href="#bar" x="751"/>
<g transform="translate(31.5,.5)"><use href="#G" x="0"/><use href="#G" x="30"/><use href="#G" x="120"/><use href="#R" x="180"/><use href="#R" x="225"/><use href="#O" x="0"/><use href="#O" x="30"/><use href="#O" x="120"/><use href="#O" x="150"/><use href="#O" x="195"/></g>
<g transform="translate(271.5,.5)"><use href="#R" x="60"/><use href="#R" x="105"/><use href="#R" x="180"/><use href="#O" x="0"/><use href="#O" x="30"/><use href="#O" x="45"/><use href="#O" x="75"/><use href="#O" x="120"/><use href="#O" x="150"/></g>
<g transform="translate(511.5,.5)"><use href="#G" x="0"/><use href="#R" x="60"/><use href="#R" x="90"/><use href="#R" x="135"/><use href="#R" x="180"/><use href="#R" x="232.5"/><use href="#Y" x="225"/><use href="#O" x="0"/><use href="#O" x="30"/><use href="#O" x="105"/><use href="#O" x="165"/><use href="#O" x="195"/></g>
<g transform="translate(751.5,.5)"><use href="#SR" x="60"/><use href="#SR" x="90"/><use href="#SR" x="135"/><use href="#SR" x="180"/><use href="#SO" x="0"/><use href="#SO" x="30"/><use href="#SO" x="105"/><use href="#SO" x="165"/></g>
<rect class="go" x="751.5" y="0" width="180" height="61"/>
<text class="mn" x="31" y="-7">57</text><text class="mn" x="271" y="-7">58</text><text class="mn" x="511" y="-7">59</text><text class="mn" x="751" y="-7">60</text>
<text class="tp" x="31" y="-33">♩=99</text><text class="tp" x="271" y="-33">♩=99</text><text class="tp" x="511" y="-33">♩=97</text><text class="tp" x="751" y="-33">♩=99</text>
<text class="s1" x="270.5" y="76">360</text><text class="s2" x="270.5" y="89">105696</text><text class="s3" x="270.5" y="102">0.00%</text>
<text class="s1" x="510.5" y="76">324</text><text class="s2" x="510.5" y="89">106992</text><text class="s3" x="510.5" y="102">0.00%</text>
<text class="s1" x="750.5" y="76">432</text><text class="s2" x="750.5" y="89">108720</text><text class="s3" x="750.5" y="102">0.00%</text>
<text class="s1" x="990.5" y="76">288</text><text class="s2" x="990.5" y="89">109872</text><text class="s3" x="990.5" y="102">24.98%</text>
</g>

<g id="row16" transform="translate(0,2512)">
<use href="#bar" x="31"/><use href="#bar" x="271"/><use href="#bar" x="511"/><use href="#bar" x="751"/>
<g transform="translate(31.5,.5)"><use href="#R" x="30"/><use href="#R" x="90"/><use href="#R" x="150"/><use href="#R" x="210"/><use href="#O" x="0"/><use href="#O" x="15"/><use href="#O" x="60"/><use href="#O" x="75"/><use href="#O" x="120"/><use href="#O" x="135"/><use href="#O" x="180"/><use href="#O" x="195"/></g>
<g transform="translate(271.5,.5)"><use href="#R" x="30"/><use href="#R" x="90"/><use href="#R" x="120"/><use href="#R" x="135"/><use href="#R" x="150"/><use href="#R" x="165"/><use href="#R" x="180"/><use href="#R" x="195"/><use href="#R" x="210"/><use href="#R" x="225"/><use href="#Y" x="180"/><use href="#Y" x="195"/><use href="#Y" x="210"/><use href="#B" x="120"/><use href="#B" x="135"/><use href="#B" x="150"/><use href="#B" x="165"/><use href="#O" x="0"/><use href="#O" x="15"/><use href="#O" x="60"/><use href="#O" x="75"/><use href="#O" x="120"/><use href="#O" x="135"/><use href="#O" x="180"/><use href="#O" x="195"/></g>
<g transform="translate(511.5,.5)"><use href="#R" x="30"/><use href="#R" x="90"/><use href="#R" x="150"/><use href="#R" x="210"/><use href="#O" x="0"/><use href="#O" x="45"/><use href="#O" x="60"/><use href="#O" x="105"/><use href="#O" x="120"/><use href="#O" x="180"/><use href="#O" x="195"/><use href="#O" x="225"/></g>
<g transform="translate(751.5,.5)"><use href="#G" x="120"/><use href="#R" x="30"/><use href="#R" x="90"/><use href="#R" x="150"/><use href="#R" x="210"/><use href="#O" x="0"/><use href="#O" x="45"/><use href="#O" x="60"/><use href="#O" x="105"/><use href="#O" x="120"/><use href="#O" x="165"/><use href="#O" x="180"/></g>
<rect class="bo" x="31" y="0" width="480.5" height="61"/><path class="be" d="M511.5 0v61"/>
<text class="mn" x="31" y="-7">61</text><text class="mn" x="271" y="-7">62</text><text class="mn" x="511" y="-7">63</text><text class="mn" x="751" y="-7">64</text>
<text class="tp" x="31" y="-33">♩=98</text><text class="tp" x="271" y="-33">♩=98</text><text class="tp" x="511" y="-33">♩=99</text><text class="tp" x="751" y="-33">♩=98</text>
<text class="s1" x="270.5" y="76">576</text><text class="s2" x="270.5" y="89">114480</text><text class="s3" x="270.5" y="102">12.48%</text>
<text class="s1" x="510.5" y="76">864</text><text class="s2" x="510.5" y="89">121392</text><text class="s3" x="510.5" y="102">0.00%</text>
<text class="s1" x="750.5" y="76">432</text><text class="s2" x="750.5" y="89">123264</text><text class="s3" x="750.5" y="102">0.00%</text>
<text class="s1" x="990.5" y="76">468</text><text class="s2" x="990.5" y="89">125136</text><text class="s3" x="990.5" y="102">0.00%</text>
</g>

<g id="row17" transform="translate(0,2665)">
<use href="#bar" x="31"/><use href="#bar" x="271"/><use href="#bar" x="511"/><use href="#bar" x="751"/>
<g transform="translate(31.5,.5)"><use href="#G" x="0"/><use href="#R" x="30"/><use href="#R" x="90"/><use href="#R" x="150"/><use href="#R" x="210"/><use href="#O" x="0"/><use href="#O" x="45"/><use href="#O" x="60"/><use href="#O" x="105"/><use href="#O" x="120"/><use href="#O" x="165"/><use href="#O" x="180"/></g>
<g transform="translate(271.5,.5)"><use href="#G" x="0"/><use href="#R" x="60"/><use href="#R" x="135"/><use href="#R" x="180"/><use href="#R" x="225"/><use href="#O" x="0"/><use href="#O" x="30"/><use href="#O" x="105"/><use href="#O" x="120"/><use href="#O" x="150"/><use href="#O" x="165"/><use href="#O" x="195"/></g>
<g transform="translate(511.5,.5)"><use href="#G" x="0"/><use href="#R" x="60"/><use href="#R" x="135"/><use href="#R" x="180"/><use href="#R" x="225"/><use href="#O" x="0"/><use href="#O" x="30"/><use href="#O" x="105"/><use href="#O" x="120"/><use href="#O" x="150"/><use href="#O" x="165"/><use href="#O" x="195"/></g>
<g transform="translate(751.5,.5)"><use href="#R" x="60"/><use href="#R" x="135"/><use href="#R" x="180"/><use href="#Y" x="225"/><use href="#O" x="0"/><use href="#O" x="30"/><use href="#O" x="105"/><use href="#O" x="120"/><use href="#O" x="150"/><use href="#O" x="165"/><use href="#O" x="195"/></g>
<text class="mn" x="31" y="-7">65</text><text class="mn" x="271" y="-7">66</text><text class="mn" x="511" y="-7">67</text><text class="mn" x="751" y="-7">68</text>
<text class="tp" x="31" y="-33">♩=98</text><text class="tp" x="271" y="-33">♩=99</text><text class="tp" x="511" y="-33">♩=98</text><text class="tp" x="751" y="-33">♩=99</text>
<text class="s1" x="270.5" y="76">468</text><text class="s2" x="270.5" y="89">127008</text><text class="s3" x="270.5" y="102">0.00%</text>
<text class="s1" x="510.5" y="76">504</text><text class="s2" x="510.5" y="89">129024</text><text class="s3" x="510.5" y="102">0.00%</text>
<text class="s1" x="750.5" y="76">324</text><text class="s2" x="750.5" y="89">130320</text><text class="s3" x="750.5" y="102">0.00%</text>
<text class="s1" x="990.5" y="76">360</text><text class="s2" x="990.5" y="89">131760</text><text class="s3" x="990.5" y="102">0.00%</text>
</g>

<g id="row18" transform="translate(0,2818)">
<use href="#bar" x="31"/><use href="#bar" x="271"/><use href="#bar" x="511"/><use href="#bar" x="751"/>
<g transform="translate(31.5,.5)"><use href="#SG" x="0"/><use href="#SR" x="30"/><use href="#SR" x="90"/><use href="#SR" x="150"/><use href="#SR" x="210"/><use href="#SO" x="0"/><use href="#SO" x="45"/><use href="#SO" x="60"/><use href="#SO" x="105"/><use href="#SO" x="120"/><use href="#SO" x="180"/><use href="#SO" x="195"/><use href="#SO" x="225"/></g>
<g transform="translate(271.5,.5)"><use href="#G" x="0"/><use href="#R" x="30"/><use href="#R" x="90"/><use href="#R" x="135"/><use href="#R" x="165"/><use href="#R" x="195"/><use href="#R" x="225"/><use href="#Y" x="150"/><use href="#Y" x="180"/><use href="#Y" x="210"/><use href="#O" x="0"/><use href="#O" x="45"/><use href="#O" x="60"/><use href="#O" x="120"/></g>
<g transform="translate(511.5,.5)"><use href="#R" x="60"/><use href="#R" x="135"/><use href="#R" x="180"/><use href="#R" x="225"/><use href="#O" x="0"/><use href="#O" x="30"/><use href="#O" x="105"/><use href="#O" x="120"/><use href="#O" x="150"/><use href="#O" x="165"/><use href="#O" x="195"/></g>
<g transform="translate(751.5,.5)"><use href="#R" x="60"/><use href="#R" x="135"/><use href="#R" x="180"/><use href="#R" x="225"/><use href="#O" x="0"/><use href="#O" x="30"/><use href="#O" x="105"/><use href="#O" x="120"/><use href="#O" x="150"/><use href="#O" x="165"/><use href="#O" x="195"/></g>
<rect class="go" x="31" y="0" width="225.5" height="61"/>
<text class="mn" x="31" y="-7">69</text><text class="mn" x="271" y="-7">70</text><text class="mn" x="511" y="-7">71</text><text class="mn" x="751" y="-7">72</text>
<text class="tp" x="31" y="-33">♩=99</text><text class="tp" x="271" y="-33">♩=98</text><text class="tp" x="511" y="-33">♩=98</text><text class="tp" x="751" y="-33">♩=98</text>
<text class="s1" x="270.5" y="76">396</text><text class="s2" x="270.5" y="89">132912</text><text class="s3" x="270.5" y="102">25.00%</text>
<text class="s1" x="510.5" y="76">432</text><text class="s2" x="510.5" y="89">134640</text><text class="s3" x="510.5" y="102">25.00%</text>
<text class="s1" x="750.5" y="76">396</text><text class="s2" x="750.5" y="89">136224</text><text class="s3" x="750.5" y="102">0.00%</text>
<text class="s1" x="990.5" y="76">396</text><text class="s2" x="990.5" y="89">137808</text><text class="s3" x="990.5" y="102">0.00%</text>
</g>

<g id="row19" transform="translate(0,2971)">
<use href="#bar" x="31"/><use href="#bar" x="271"/><use href="#bar" x="511"/>
<g transform="translate(31.5,.5)"><use href="#R" x="30"/><use href="#R" x="90"/><use href="#R" x="150"/><use href="#R" x="210"/><use href="#O" x="0"/><use href="#O" x="15"/><use href="#O" x="60"/><use href="#O" x="75"/><use href="#O" x="120"/><use href="#O" x="135"/><use href="#O" x="180"/><use href="#O" x="195"/></g>
<g transform="translate(271.5,.5)"><use href="#R" x="30"/><use href="#R" x="90"/><use href="#R" x="150"/><use href="#R" x="210"/><use href="#O" x="0"/><use href="#O" x="15"/><use href="#O" x="60"/><use href="#O" x="75"/><use href="#O" x="120"/><use href="#O" x="135"/><use href="#O" x="180"/><use href="#O" x="195"/></g>
<g transform="translate(511.5,.5)"><use href="#R" x="30"/><use href="#R" x="60"/><use href="#R" x="90"/><use href="#B" x="60"/><use href="#B" x="75"/><use href="#B" x="90"/><use href="#O" x="0"/><use href="#O" x="15"/><use href="#O" x="60"/><use href="#O" x="75"/></g>
<rect class="bo" x="136.5" y="0" width="480" height="61"/><path class="be" d="M616.5 0v61"/>
<text class="mn" x="31" y="-7">73</text><text class="mn" x="271" y="-7">74</text><text class="mn" x="511" y="-7">75</text>
<text class="tp" x="31" y="-33">♩=99</text><text class="tp" x="271" y="-33">♩=97</text><text class="tp" x="511" y="-33">♩=98</text>
<text class="s1" x="270.5" y="76">396</text><text class="s2" x="270.5" y="89">140544</text><text class="s3" x="270.5" y="102">17.95%</text>
<text class="s1" x="510.5" y="76">720</text><text class="s2" x="510.5" y="89">143424</text><text class="s3" x="510.5" y="102">5.45%</text>
<text class="s1" x="750.5" y="76">288</text><text class="s2" x="750.5" y="89">145728</text><text class="s3" x="750.5" y="102">0.00%</text>
</g>
</svg>
